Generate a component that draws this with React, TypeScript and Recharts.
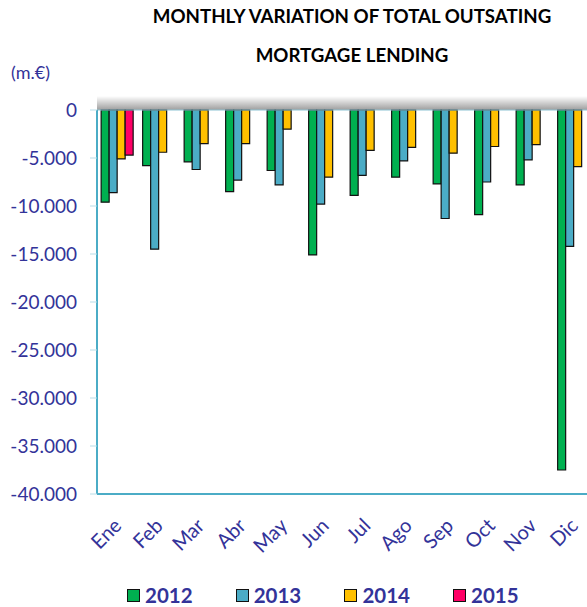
import React from "react";
import { BarChart, Bar, XAxis, YAxis, Legend, ReferenceLine } from "recharts";

const months = ["Ene", "Feb", "Mar", "Abr", "May", "Jun", "Jul", "Ago", "Sep", "Oct", "Nov", "Dic"];
const v2012 = [-9600, -5800, -5400, -8500, -6300, -15100, -8900, -7000, -7700, -10900, -7800, -37500];
const v2013 = [-8600, -14500, -6200, -7300, -7800, -9800, -6800, -5300, -11300, -7500, -5200, -14200];
const v2014 = [-5100, -4400, -3500, -3500, -2000, -7000, -4200, -3900, -4500, -3800, -3600, -5900];
const v2015 = [-4700, null, null, null, null, null, null, null, null, null, null, null];
const yTicks = [0, -5000, -10000, -15000, -20000, -25000, -30000, -35000, -40000];
const boundaryTicks = [0, 1, 2, 3, 4, 5, 6, 7, 8, 9, 10, 11, 12];

const series = [
  { key: "2012", color: "#00b050" },
  { key: "2013", color: "#4bacc6" },
  { key: "2014", color: "#ffc000" },
  { key: "2015", color: "#ff0066" },
];

const data = months.map((m, i) => ({
  month: m,
  "2012": v2012[i],
  "2013": v2013[i],
  "2014": v2014[i],
  "2015": v2015[i],
}));

const FONT = "Lato, 'Open Sans', sans-serif";
const LABEL = "#333399";

const fmt = (n: number) => {
  if (n === 0) return "0";
  const s = Math.abs(n).toString().replace(/\B(?=(\d{3})+(?!\d))/g, ".");
  return (n < 0 ? "-" : "") + s;
};

const MonthTick = (props: any) => {
  const { x, y, payload } = props;
  const ax = x + 5;
  const ay = y + 25;
  return (
    <text
      x={ax}
      y={ay}
      transform={`rotate(-45, ${ax}, ${ay})`}
      textAnchor="end"
      fill={LABEL}
      fontSize={20}
      fontFamily={FONT}
    >
      {payload.value}
    </text>
  );
};

const renderLegend = () => (
  <div style={{ height: 24, display: "flex", paddingLeft: 127, fontFamily: FONT }}>
    {series.map((s) => (
      <div key={s.key} style={{ width: 108.7, display: "flex", alignItems: "center" }}>
        <span
          style={{
            display: "inline-block",
            width: 11,
            height: 11,
            background: s.color,
            border: "1.5px solid #111",
            marginRight: 5,
          }}
        />
        <span style={{ color: LABEL, fontWeight: 700, fontSize: 20.5 }}>{s.key}</span>
      </div>
    ))}
  </div>
);

export default function App() {
  return (
    <div style={{ position: "absolute", left: 0, top: 0, width: 587, height: 607, overflow: "hidden", background: "#fff" }}>
      <div
        style={{
          position: "absolute",
          left: 97,
          top: 96,
          width: 500,
          height: 14,
          background: "linear-gradient(to bottom, rgba(0,0,0,0), rgba(0,0,0,0.38))",
        }}
      />
      <div style={{ position: "absolute", left: 0, top: 0, width: 600, height: 607 }}>
        <BarChart
          width={600}
          height={607}
          data={data}
          margin={{ top: 110, right: 5, bottom: 0, left: 0 }}
          barCategoryGap="10%"
          barGap={0}
        >
          <XAxis
            xAxisId="cat"
            dataKey="month"
            height={89}
            interval={0}
            tickLine={false}
            axisLine={{ stroke: "#4bacc6", strokeWidth: 2 }}
            tick={<MonthTick />}
          />
          <XAxis
            xAxisId="bound"
            type="number"
            orientation="top"
            domain={[0, 12]}
            ticks={boundaryTicks}
            allowDataOverflow
            height={0}
            mirror
            tick={false}
            tickSize={7}
            tickLine={{ stroke: "#bfbfbf" }}
            axisLine={{ stroke: "#8ec3d3", strokeWidth: 1 }}
          />
          <YAxis
            width={97}
            domain={[-40000, 0]}
            ticks={yTicks}
            interval={0}
            tickFormatter={fmt}
            tickSize={7}
            tickMargin={13}
            tickLine={{ stroke: "#b7dde8" }}
            axisLine={{ stroke: "#4bacc6", strokeWidth: 2 }}
            tick={{ fill: LABEL, fontSize: 19, fontFamily: FONT }}
          />
          <ReferenceLine xAxisId="cat" y={0} stroke="#8ec3d3" />
          {series.map((s) => (
            <Bar
              key={s.key}
              xAxisId="cat"
              dataKey={s.key}
              fill={s.color}
              stroke="#111"
              strokeWidth={1.2}
              isAnimationActive={false}
            />
          ))}
          <Legend verticalAlign="bottom" align="left" content={renderLegend} wrapperStyle={{ left: 0, width: 600 }} />
        </BarChart>
      </div>
      <div
        style={{
          position: "absolute",
          left: 105,
          width: 494,
          top: 5,
          textAlign: "center",
          fontFamily: FONT,
          fontWeight: 700,
          fontSize: 18.7,
          color: "#000",
        }}
      >
        MONTHLY VARIATION OF TOTAL OUTSATING
      </div>
      <div
        style={{
          position: "absolute",
          left: 105,
          width: 494,
          top: 44,
          textAlign: "center",
          fontFamily: FONT,
          fontWeight: 700,
          fontSize: 18.7,
          color: "#000",
        }}
      >
        MORTGAGE LENDING
      </div>
      <div style={{ position: "absolute", left: 11, top: 61, fontFamily: FONT, fontSize: 18, color: LABEL }}>(m.€)</div>
    </div>
  );
}
